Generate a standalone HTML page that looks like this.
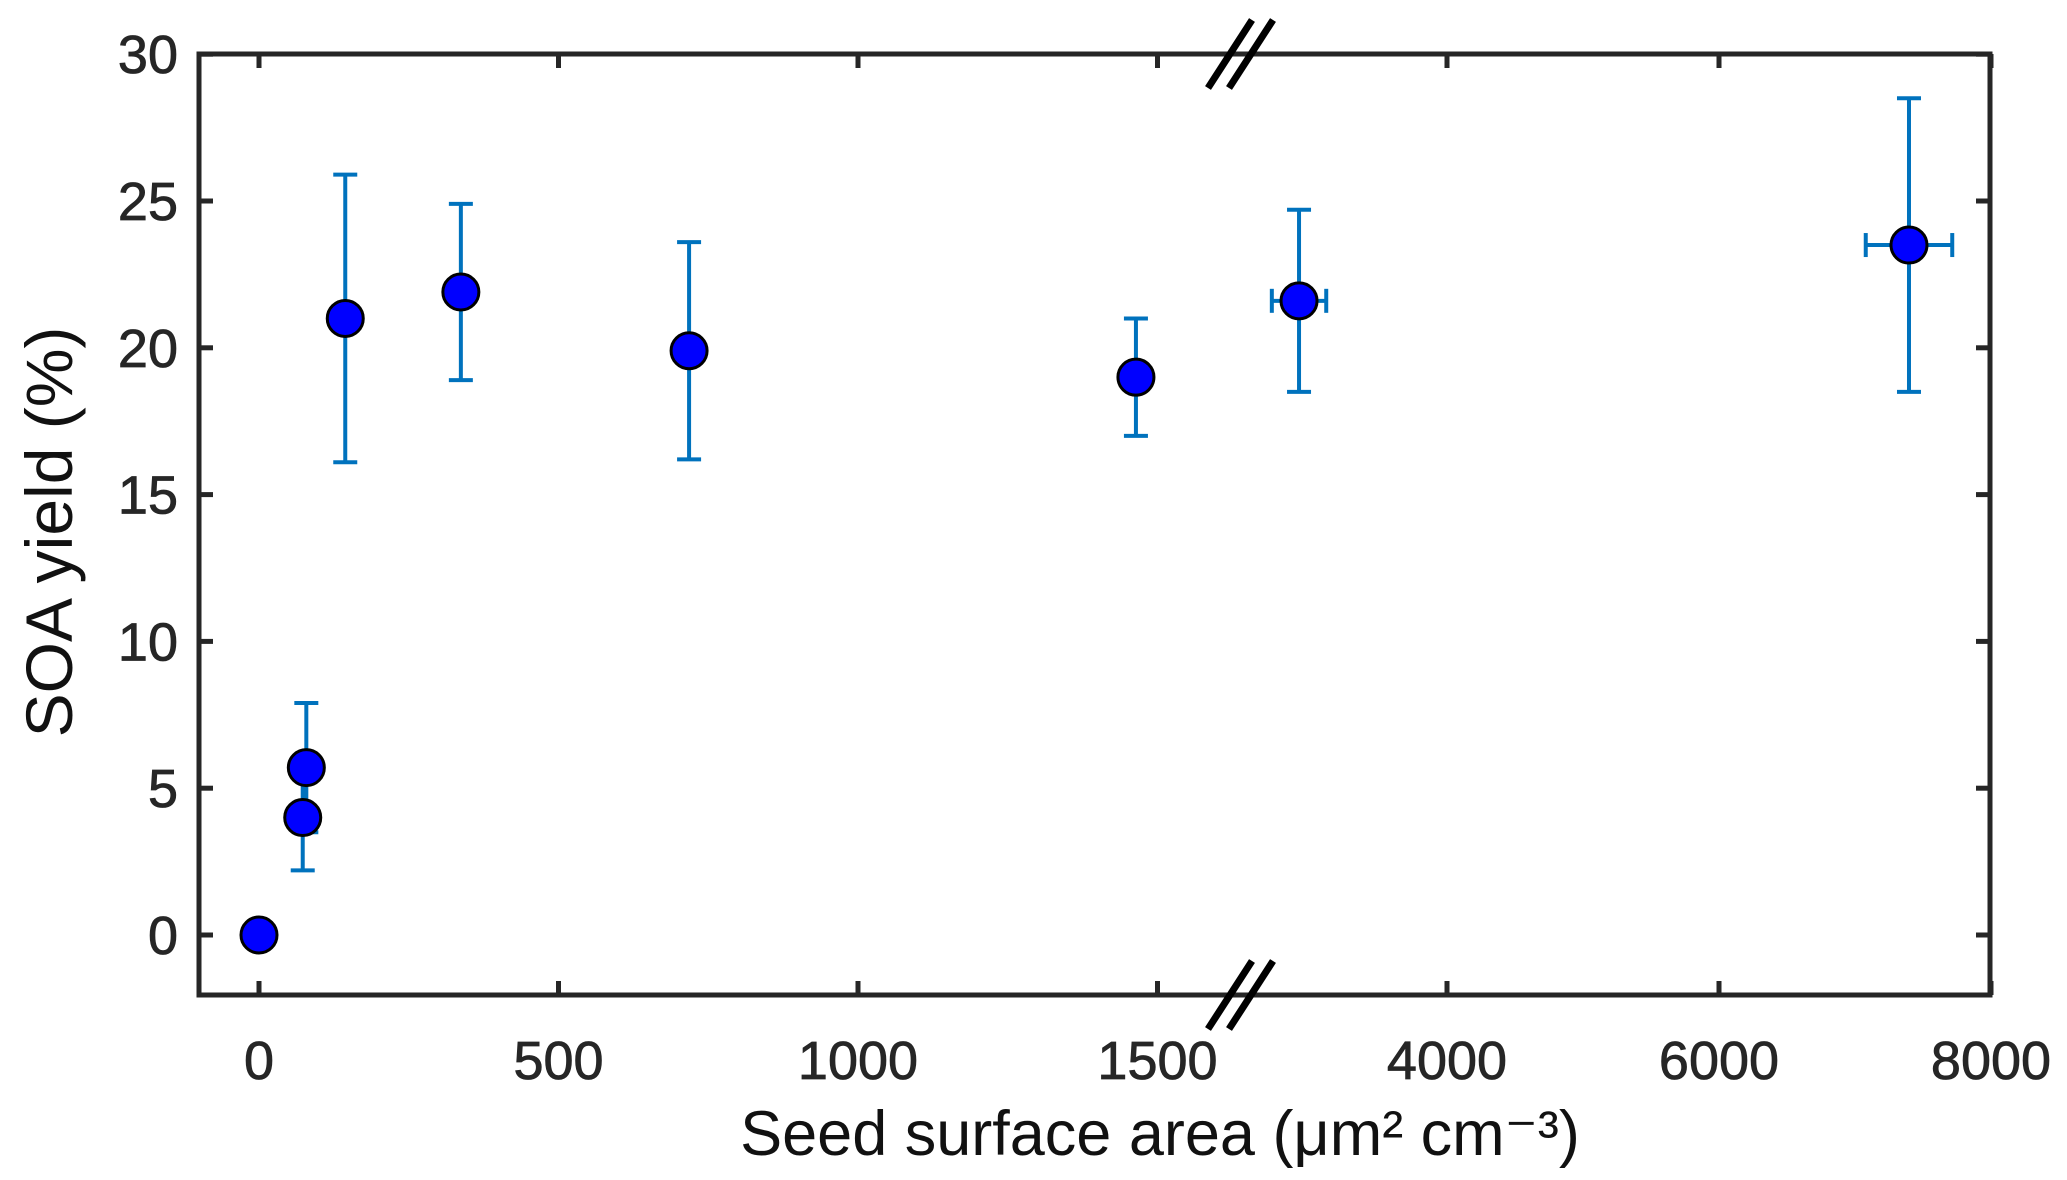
<!DOCTYPE html>
<html><head><meta charset="utf-8"><style>
html,body{margin:0;padding:0;background:#fff;}
svg{display:block;}
</style></head><body>
<svg id="chart" width="2067" height="1180" xmlns="http://www.w3.org/2000/svg">
<rect width="2067" height="1180" fill="#fff"/>
<g id="axes"></g>
<g id="marks"></g>
<text x="1160" y="1155" text-anchor="middle" font-family="'Liberation Sans', sans-serif" font-size="63" fill="#111">Seed surface area (μm² cm⁻³)</text>
<text transform="translate(72,532) rotate(-90)" text-anchor="middle" font-family="'Liberation Sans', sans-serif" font-size="66" fill="#111">SOA yield (%)</text>
</svg>
<script>
const xValues = [0, 73, 79, 144, 337, 718, 1464, 2912, 7397];
const yValues = [0, 4.0, 5.7, 21.0, 21.9, 19.9, 19.0, 21.6, 23.5];
const yErrLow = [0, 1.8, 2.2, 4.9, 3.0, 3.7, 2.0, 3.1, 5.0];
const yErrHigh = [0, 1.8, 2.2, 4.9, 3.0, 3.7, 2.0, 3.1, 5.0];
const xErr = [0, 0, 0, 0, 0, 0, 0, 200, 318];
const xTicks = [0, 500, 1000, 1500, 4000, 6000, 8000];
const xTickLabels = ["0", "500", "1000", "1500", "4000", "6000", "8000"];
const yTicks = [0, 5, 10, 15, 20, 25, 30];
const yTickLabels = ["0", "5", "10", "15", "20", "25", "30"];

const NS = "http://www.w3.org/2000/svg";
const L = 199, R = 1990, T = 54, B = 995;
function xScale(v) {
  if (v <= 2000) return 259 + (v - 0) * 0.599;
  return 1447 + (v - 4000) * 0.136;
}
function yScale(v) { return 935 - v * 29.36; }
function mk(tag, attrs, parent) {
  const e = document.createElementNS(NS, tag);
  for (const k in attrs) e.setAttribute(k, attrs[k]);
  parent.appendChild(e);
  return e;
}
const axes = document.getElementById('axes');
const marks = document.getElementById('marks');
const AX = "#262626";
const frame = mk('rect', {x: L, y: T, width: R - L, height: B - T, fill: 'none', stroke: AX, 'stroke-width': 5}, axes);


xTicks.forEach((v, i) => {
  const x = xScale(v);
  const t1 = mk('line', {x1: x, x2: x, y1: B, y2: B - 14, stroke: AX, 'stroke-width': 5}, axes);
  
  
  const t2 = mk('line', {x1: x, x2: x, y1: T, y2: T + 14, stroke: AX, 'stroke-width': 5}, axes);
  
  
  const tx = mk('text', {x: x, y: 1079, 'text-anchor': 'middle', 'font-family': "'Liberation Sans', sans-serif", 'font-size': 54, fill: '#262626', stroke: '#262626', 'stroke-width': 0.8}, axes);
  tx.textContent = xTickLabels[i];
  
  
});
yTicks.forEach((v, i) => {
  const y = yScale(v);
  const t1 = mk('line', {x1: L, x2: L + 14, y1: y, y2: y, stroke: AX, 'stroke-width': 5}, axes);
  
  
  const t2 = mk('line', {x1: R, x2: R - 14, y1: y, y2: y, stroke: AX, 'stroke-width': 5}, axes);
  
  
  const tx = mk('text', {x: 178, y: y + 19, 'text-anchor': 'end', 'font-family': "'Liberation Sans', sans-serif", 'font-size': 54, fill: '#262626', stroke: '#262626', 'stroke-width': 0.8}, axes);
  tx.textContent = yTickLabels[i];
  
  
});
[[0, T], [0, B]].forEach((p, j) => {
  const y0 = p[1];
  [0, 21].forEach(dx => {
    const bl = mk('line', {x1: 1208 + dx, y1: y0 + 34, x2: 1252 + dx, y2: y0 - 34, stroke: '#000', 'stroke-width': 7}, axes);
    
    
  });
});
const EC = "#0072BD";
xValues.forEach((xv, i) => {
  const cx = xScale(xv), cy = yScale(yValues[i]);
  if (yErrLow[i] > 0 || yErrHigh[i] > 0) {
    const yt = yScale(yValues[i] + yErrHigh[i]), yb = yScale(yValues[i] - yErrLow[i]);
    const g = mk('g', {stroke: EC, 'stroke-width': 4}, marks);
    
    
    mk('line', {x1: cx, x2: cx, y1: yt, y2: yb}, g);
    mk('line', {x1: cx - 12, x2: cx + 12, y1: yt, y2: yt}, g);
    mk('line', {x1: cx - 12, x2: cx + 12, y1: yb, y2: yb}, g);
  }
  if (xErr[i] > 0) {
    const xl = xScale(xv - xErr[i]), xr = xScale(xv + xErr[i]);
    const g = mk('g', {stroke: EC, 'stroke-width': 4}, marks);
    
    
    mk('line', {x1: xl, x2: xr, y1: cy, y2: cy}, g);
    mk('line', {x1: xl, x2: xl, y1: cy - 12, y2: cy + 12}, g);
    mk('line', {x1: xr, x2: xr, y1: cy - 12, y2: cy + 12}, g);
  }
});
xValues.forEach((xv, i) => {
  const c = mk('circle', {cx: xScale(xv), cy: yScale(yValues[i]), r: 18, fill: '#0000FF', stroke: '#000', 'stroke-width': 3}, marks);
  
  
});
</script>
</body></html>
